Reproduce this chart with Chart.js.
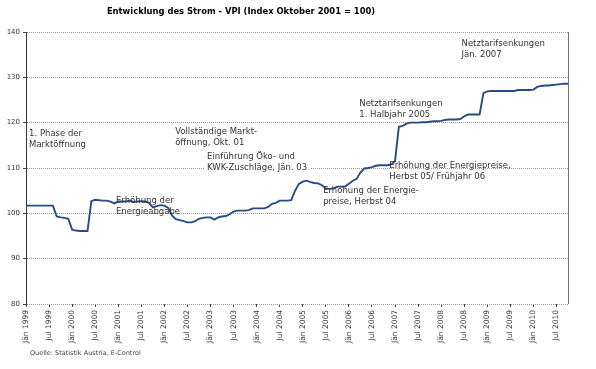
<!DOCTYPE html>
<html>
<head>
<meta charset="utf-8">
<script src="https://cdn.jsdelivr.net/npm/chart.js@4/dist/chart.umd.min.js"></script>
<style>
  html, body { margin: 0; padding: 0; background: #fff; }
</style>
</head>
<body>
<canvas id="vpiChart" width="596" height="369"></canvas>
<script>
// Monatswerte Strom-VPI, Jän 1999 bis Okt 2010 (Index Okt 2001 = 100)
const tickLabels = [
  "Jän 1999", "Jul 1999", "Jän 2000", "Jul 2000", "Jän 2001", "Jul 2001",
  "Jän 2002", "Jul 2002", "Jän 2003", "Jul 2003", "Jän 2004", "Jul 2004",
  "Jän 2005", "Jul 2005", "Jän 2006", "Jul 2006", "Jän 2007", "Jul 2007",
  "Jän 2008", "Jul 2008", "Jän 2009", "Jul 2009", "Jän 2010", "Jul 2010"
];

const stromVpi = [
  101.7, 101.7, 101.7, 101.7, 101.7, 101.7, 101.7, 101.7, 99.3, 99.1, 99.0, 98.8,
  96.4, 96.2, 96.1, 96.1, 96.1, 102.7, 103.0, 102.9, 102.8, 102.8, 102.6, 102.2,
  102.6, 102.6, 102.6, 102.8, 102.5, 102.6, 102.7, 102.6, 102.3, 101.3, 101.6, 101.8,
  101.7, 101.2, 99.5, 98.7, 98.5, 98.3, 98.0, 98.0, 98.3, 98.8, 99.0, 99.1,
  99.1, 98.6, 99.1, 99.3, 99.4, 99.8, 100.4, 100.6, 100.6, 100.6, 100.7, 101.1,
  101.1, 101.1, 101.1, 101.4, 102.1, 102.3, 102.8, 102.8, 102.8, 102.9, 105.0, 106.5,
  107.0, 107.2, 106.9, 106.7, 106.6, 106.2, 105.5, 105.4, 105.5, 105.9, 105.9, 105.9,
  106.5, 107.2, 107.6, 109.0, 109.9, 110.0, 110.2, 110.5, 110.6, 110.6, 110.6, 110.8,
  111.5, 119.1, 119.3, 119.8, 120.0, 120.0, 120.0, 120.1, 120.1, 120.2, 120.3, 120.3,
  120.4, 120.6, 120.7, 120.7, 120.7, 120.8, 121.4, 121.8, 121.8, 121.8, 121.8, 126.5,
  126.9, 127.0, 127.0, 127.0, 127.0, 127.0, 127.0, 127.0, 127.2, 127.2, 127.2, 127.2,
  127.3, 127.9, 128.1, 128.2, 128.2, 128.3, 128.4, 128.5, 128.6, 128.6
];

// Anmerkungen: Monatsindex und Indexwert, an dem der Text beginnt
const notes = [
  { m: 0.8,   v: 118.5, lines: ["1. Phase der", "Marktöffnung"] },
  { m: 23.4,  v: 103.8, lines: ["Erhöhung der", "Energieabgabe"] },
  { m: 38.8,  v: 119.0, lines: ["Vollständige Markt-", "öffnung, Okt. 01"] },
  { m: 47.1,  v: 113.5, lines: ["Einführung Öko- und", "KWK-Zuschläge, Jän. 03"], box: true },
  { m: 77.3,  v: 105.8, lines: ["Erhöhung der Energie-", "preise, Herbst 04"] },
  { m: 94.5,  v: 111.5, lines: ["Erhöhung der Energiepreise,", "Herbst 05/ Frühjahr 06"] },
  { m: 86.7,  v: 125.0, lines: ["Netztarifsenkungen", "1. Halbjahr 2005"] },
  { m: 113.3, v: 138.4, lines: ["Netztarifsenkungen", "Jän. 2007"] }
];

const months = stromVpi.map((v, i) => i);
const noteFont = '8.5px "DejaVu Sans"';

const extras = {
  id: 'extras',
  beforeDatasetsDraw(chart) {
    const { ctx, scales } = chart;
    ctx.save();
    ctx.font = noteFont;
    notes.filter(n => n.box).forEach(n => {
      const x = scales.x.getPixelForValue(n.m);
      const y = scales.y.getPixelForValue(n.v);
      const w = Math.max(...n.lines.map(l => ctx.measureText(l).width));
      ctx.fillStyle = '#fff';
      ctx.fillRect(x - 3, y - 1, w + 6, n.lines.length * 11 + 2);
    });
    ctx.restore();
  },
  afterDraw(chart) {
    const { ctx, scales, chartArea } = chart;
    ctx.save();
    // rechter Rahmen
    ctx.strokeStyle = '#777';
    ctx.lineWidth = 1;
    ctx.beginPath();
    ctx.moveTo(chartArea.right + 0.5, chartArea.top);
    ctx.lineTo(chartArea.right + 0.5, chartArea.bottom);
    ctx.stroke();

    ctx.font = noteFont;
    ctx.fillStyle = '#333';
    ctx.textBaseline = 'top';
    ctx.textAlign = 'left';
    notes.forEach(n => {
      const x = scales.x.getPixelForValue(n.m);
      const y = scales.y.getPixelForValue(n.v);
      n.lines.forEach((l, k) => ctx.fillText(l, x, y + k * 11));
    });

    ctx.font = 'bold 8.4px "DejaVu Sans"';
    ctx.fillStyle = '#000';
    ctx.textAlign = 'center';
    ctx.fillText('Entwicklung des Strom - VPI (Index Oktober 2001 = 100)', 241, 8);

    ctx.font = '6.5px "DejaVu Sans"';
    ctx.fillStyle = '#444';
    ctx.textAlign = 'left';
    ctx.fillText('Quelle: Statistik Austria, E-Control', 30, 350);
    ctx.restore();
  }
};

new Chart(document.getElementById('vpiChart'), {
  type: 'line',
  data: {
    labels: months,
    datasets: [{
      data: stromVpi,
      borderColor: '#284a86',
      borderWidth: 1.9,
      pointRadius: 0,
      tension: 0,
      fill: false
    }]
  },
  options: {
    responsive: false,
    animation: false,
    devicePixelRatio: 1,
    layout: { padding: { left: 0, right: 28, top: 32, bottom: 22 } },
    plugins: { legend: { display: false }, tooltip: { enabled: false } },
    scales: {
      x: {
        afterFit(scale) { scale.height = 43; },
        border: { display: false },
        grid: {
          drawOnChartArea: false,
          tickLength: 3,
          color: c => (c.index % 6 === 0 ? '#444' : 'rgba(0,0,0,0)')
        },
        ticks: {
          autoSkip: false,
          minRotation: 90,
          maxRotation: 90,
          padding: 3,
          color: '#333',
          font: { family: 'DejaVu Sans', size: 7.5 },
          callback: (val, i) => (i % 6 === 0 ? tickLabels[i / 6] : '')
        }
      },
      y: {
        min: 80,
        max: 140,
        afterFit(scale) { scale.width = 26; },
        border: { display: true, color: '#333', width: 1, dash: [1, 1] },
        grid: { color: '#999', tickLength: 3, tickColor: '#444', tickBorderDash: [] },
        ticks: {
          stepSize: 10,
          padding: 3,
          color: '#333',
          font: { family: 'DejaVu Sans', size: 7 }
        }
      }
    }
  },
  plugins: [extras]
});
</script>
</body>
</html>
